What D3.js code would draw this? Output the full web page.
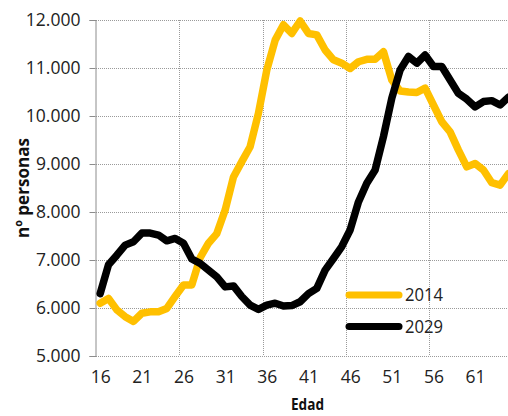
<!DOCTYPE html>
<html>
<head>
<meta charset="utf-8">
<script src="https://cdn.jsdelivr.net/npm/d3@7"></script>
<style>
  html, body { margin: 0; padding: 0; background: #fff; }
  svg { display: block; }
  text { font-family: "Open Sans", "Noto Sans", sans-serif; }
</style>
</head>
<body>
<svg id="chart" width="508" height="416"></svg>
<script>
const ages = d3.range(16, 66);
const values2014 = [
  6100, 6200, 5960, 5820, 5720, 5890, 5920, 5920, 5990, 6240,
  6480, 6480, 7050, 7350, 7550, 8040, 8730, 9050, 9360, 10060,
  10960, 11580, 11900, 11720, 11980, 11720, 11690, 11375, 11170, 11100,
  10990, 11130, 11180, 11180, 11340, 10750, 10520, 10500, 10490, 10580,
  10230, 9880, 9670, 9290, 8940, 9010, 8875, 8610, 8560, 8800
];
const values2029 = [
  6300, 6900, 7100, 7310, 7380, 7560, 7560, 7520, 7400, 7450,
  7350, 7020, 6930, 6790, 6650, 6440, 6460, 6240, 6060, 5970,
  6060, 6100, 6040, 6050, 6130, 6300, 6410, 6790, 7030, 7280,
  7625, 8210, 8600, 8875, 9570, 10370, 10960, 11240, 11100, 11270,
  11030, 11030, 10750, 10470, 10350, 10190, 10300, 10320, 10230, 10390
];
const seriesNames = ["2014", "2029"];
const seriesColors = ["#FFC000", "#000000"];
const xTickLabels = [16, 21, 26, 31, 36, 41, 46, 51, 56, 61];
const xGridAges = [26, 36, 46, 56];
const yTicks = [5000, 6000, 7000, 8000, 9000, 10000, 11000, 12000];

const svg = d3.select("#chart");
const x = d3.scaleLinear().domain([15.5, 65.5]).range([96, 512.6]);
const y = d3.scaleLinear().domain([5000, 12000]).range([356, 20]);
const fmt = d3.formatLocale({decimal: ",", thousands: ".", grouping: [3], currency: ["", "€"]}).format(",d");

// horizontal gridlines
svg.append("g").selectAll("line").data(yTicks).join("line")
  .attr("x1", 96).attr("x2", 512.6)
  .attr("y1", d => Math.round(y(d)) + 0.5).attr("y2", d => Math.round(y(d)) + 0.5)
  .attr("stroke", "#9a9a9a").attr("stroke-width", 1).attr("stroke-dasharray", "1,1");

// vertical gridlines (category boundaries)
svg.append("g").selectAll("line").data(xGridAges).join("line")
  .attr("x1", d => Math.round(x(d - 0.5)) + 0.5).attr("x2", d => Math.round(x(d - 0.5)) + 0.5)
  .attr("y1", y(12000)).attr("y2", y(5000))
  .attr("stroke", "#9a9a9a").attr("stroke-width", 1).attr("stroke-dasharray", "1,1");

// y axis
const yAxis = svg.append("g").attr("transform", "translate(95.5,0)")
  .call(d3.axisLeft(y).tickValues(yTicks).tickFormat(fmt).tickSize(6).tickPadding(9));
yAxis.select(".domain").attr("stroke", "#8c8c8c");
yAxis.selectAll(".tick line").attr("stroke", "#8c8c8c");
yAxis.selectAll(".tick text").attr("font-size", "17.5px").attr("fill", "#222")
  .attr("font-family", "'Open Sans', sans-serif");

// x axis labels
const xAxis = svg.append("g").attr("transform", "translate(0,356)")
  .call(d3.axisBottom(x).tickValues(xTickLabels).tickFormat(d3.format("d")).tickSize(0).tickPadding(15));
xAxis.select(".domain").remove();
xAxis.selectAll(".tick text").attr("font-size", "17.5px").attr("fill", "#222")
  .attr("font-family", "'Open Sans', sans-serif");

// lines
const line = d3.line().x((d, i) => x(ages[i])).y(d => y(d));
[values2014, values2029].forEach((vals, k) => {
  svg.append("path").datum(vals)
    .attr("fill", "none").attr("stroke", seriesColors[k])
    .attr("stroke-width", 7.5).attr("stroke-linejoin", "round").attr("stroke-linecap", "round")
    .attr("d", line);
});

// legend
const legend = svg.append("g");
seriesNames.forEach((name, k) => {
  const ly = 295 + k * 31.5;
  legend.append("line").attr("x1", 349).attr("x2", 399).attr("y1", ly).attr("y2", ly)
    .attr("stroke", seriesColors[k]).attr("stroke-width", 7).attr("stroke-linecap", "round");
  legend.append("text").attr("x", 405).attr("y", ly).attr("dy", "0.35em")
    .attr("font-size", "17.5px").attr("fill", "#222")
    .attr("textLength", 38).attr("lengthAdjust", "spacingAndGlyphs").text(name);
});

// axis titles
svg.append("text").attr("transform", "translate(29,188) rotate(-90)")
  .attr("text-anchor", "middle").attr("font-size", "17.5px").attr("font-weight", "bold")
  .attr("fill", "#111").attr("textLength", 100).attr("lengthAdjust", "spacingAndGlyphs")
  .text("nº personas");
svg.append("text").attr("x", 307.5).attr("y", 410).attr("text-anchor", "middle")
  .attr("font-size", "16.5px").attr("font-weight", "bold").attr("fill", "#111")
  .attr("textLength", 33).attr("lengthAdjust", "spacingAndGlyphs").text("Edad");
</script>
</body>
</html>
